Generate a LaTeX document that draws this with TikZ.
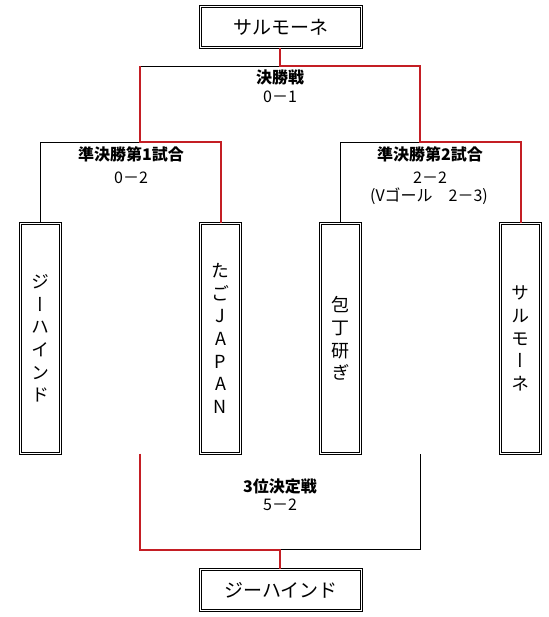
\documentclass[tikz,border=0pt]{standalone}
\usepackage{fontspec}
\setmainfont{Noto Sans CJK JP}
\newfontfamily\tate[RawFeature=+vert]{Noto Sans CJK JP}
\usetikzlibrary{calc}
\definecolor{winred}{HTML}{C41E24}
\definecolor{lossblk}{HTML}{000000}

\begin{document}
\begin{tikzpicture}[x=1pt, y=-1pt,
  frame/.style={draw, double, double distance=1pt, line width=1pt},
  wide/.style={frame, inner sep=0pt, minimum width=161pt, minimum height=41pt, font=\fontsize{19}{22}\selectfont},
  tall/.style={inner sep=0pt, minimum width=40pt, minimum height=230pt, align=center, font=\tate\fontsize{18}{22.6}\selectfont},
  label/.style={font=\bfseries\fontsize{16}{18}\selectfont, inner sep=0pt},
  score/.style={font=\fontsize{16}{18}\selectfont, inner sep=0pt},
  win/.style={winred, line width=2pt},
  lose/.style={lossblk, line width=1pt}]

% Canvas
\useasboundingbox (0,0) rectangle (548,617);

% Champion and third place
\node[wide] (champ) at (281,27) {サルモーネ};
\node[wide] (third) at (281,590) {ジーハインド};

% Teams
\node[tall] (t1) at (40.5,338.5) {ジ\\ー\\ハ\\イ\\ン\\ド};
\node[tall] (t2) at (220.5,338.5) {た\\ご\\J\\A\\P\\A\\N};
\node[tall] (t3) at (340.5,338.5) {包\\丁\\研\\ぎ};
\node[tall] (t4) at (520.5,338.5) {サ\\ル\\モ\\ー\\ネ};
\foreach \t in {t1,t2,t3,t4}
  \draw[frame] (\t.north west) rectangle (\t.south east);

% Junctions
\coordinate (fin) at (280,66.5);
\coordinate (s1) at (140,142.5);
\coordinate (s2) at (420,142.5);
\coordinate (bronze) at (280,549.5);

% Losing paths
\draw[lose] (fin) -- (s1 |- fin);
\draw[lose] (s1) -| (t1.north);
\draw[lose] (s2) -| (t3.north);
\draw[lose] (bronze) -- (s2 |- bronze) -- (s2 |- t4.south);

% Winning paths
\draw[win] (fin |- champ.south) -- (fin) -| (s2) -| (t4.north);
\draw[win] (s1 |- fin) -- (s1) -| (t2.north);
\draw[win] (s1 |- t1.south) -- (s1 |- bronze) -- (bronze) -- (bronze |- third.north);

% Match labels
\node[label] (finlbl) at (280,77) {決勝戦};
\node[score] (finsc) at (280,97) {0－1};
\node[label] (sf1lbl) at (131,154) {準決勝第1試合};
\node[score] (sf1sc) at (131,178) {0－2};
\node[label] (sf2lbl) at (430,154) {準決勝第2試合};
\node[score] (sf2sc) at (430,178) {2－2};
\node[score] (sf2vg) at (429,196) {(Vゴール　2－3)};
\node[label] (thlbl) at (280,486) {3位決定戦};
\node[score] (thsc) at (280,505) {5－2};

\end{tikzpicture}
\end{document}
